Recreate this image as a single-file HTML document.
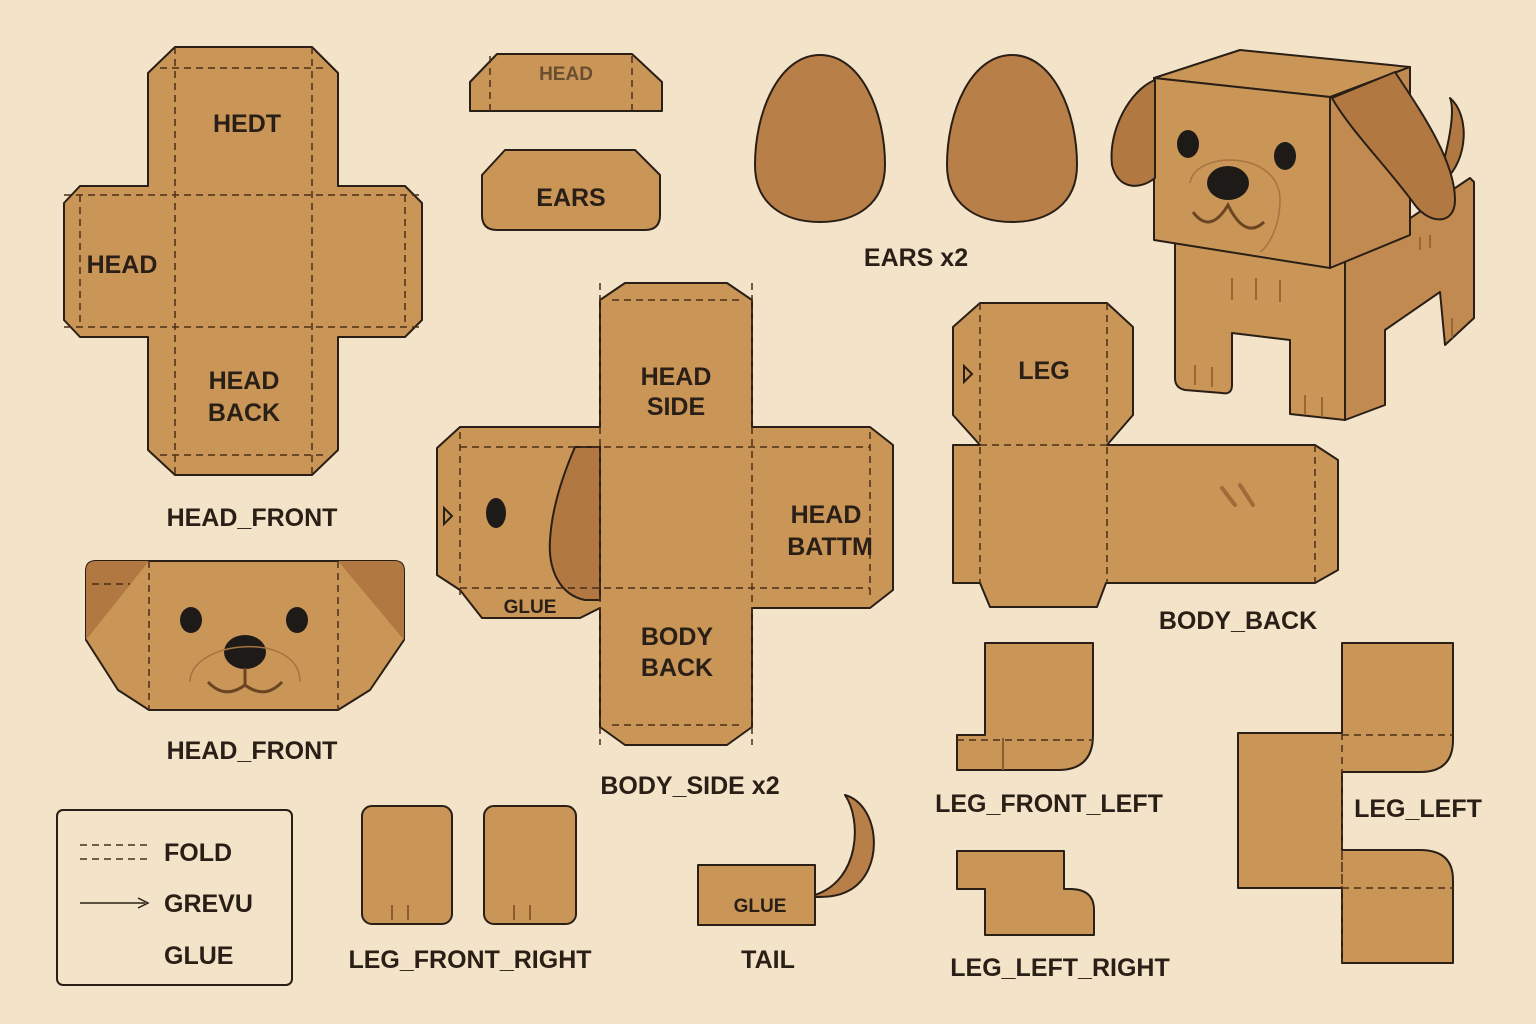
<!DOCTYPE html>
<html><head><meta charset="utf-8"><style>
html,body{margin:0;padding:0;background:#f3e3c8;}
svg{display:block;}
text{font-family:"Liberation Sans",sans-serif;font-weight:bold;fill:#2a1f16;}
</style></head><body>
<svg width="1536" height="1024" viewBox="0 0 1536 1024" xmlns="http://www.w3.org/2000/svg">
<rect width="1536" height="1024" fill="#f3e3c8"/>
<g stroke="#2a1f16" stroke-width="2" fill="#c99658" stroke-linejoin="round">
<path d="M175,47 L312,47 L338,73 L338,186 L405,186 L422,203 L422,320 L405,337 L338,337 L338,450 L312,475 L175,475 L148,450 L148,337 L80,337 L64,320 L64,203 L80,186 L148,186 L148,73 Z"/>
<path d="M470,111 L470,82 L497,54 L632,54 L662,82 L662,111 Z"/>
<path d="M482,175 L505,150 L635,150 L660,175 L660,215 Q660,230 645,230 L497,230 Q482,230 482,215 Z"/>
<path d="M820,55 C860,55 885,110 885,165 C885,205 855,222 820,222 C785,222 755,205 755,165 C755,110 780,55 820,55 Z" fill="#b97f48"/>
<path d="M1012,55 C1052,55 1077,110 1077,165 C1077,205 1047,222 1012,222 C977,222 947,205 947,165 C947,110 972,55 1012,55 Z" fill="#b97f48"/>
<path d="M625,283 L727,283 L752,300 L752,427 L870,427 L893,445 L893,590 L870,608 L752,608 L752,727 L727,745 L625,745 L600,727 L600,608 L580,618 L482,618 L460,590 L437,575 L437,448 L460,427 L480,427 L600,427 L600,300 Z"/>
<path d="M980,303 L1107,303 L1133,327 L1133,415 L1107,445 L1315,445 L1338,460 L1338,570 L1315,583 L1106,583 L1097,607 L990,607 L980,583 L953,583 L953,445 L980,445 L953,415 L953,327 Z"/>
<path d="M96,561 L394,561 Q404,561 404,571 L404,640 L370,690 L338,710 L149,710 L118,690 L86,640 L86,571 Q86,561 96,561 Z"/>
<path d="M86,640 L86,571 Q86,561 96,561 L149,561 Z" fill="#b27842" stroke="none"/>
<path d="M404,640 L404,571 Q404,561 394,561 L338,561 Z" fill="#b27842" stroke="none"/>
<rect x="362" y="806" width="90" height="118" rx="10"/>
<rect x="484" y="806" width="92" height="118" rx="10"/>
<path d="M815,895 C860,880 862,820 845,795 C880,805 885,870 850,890 C838,897 825,897 815,897 Z" fill="#b97f48"/>
<rect x="698" y="865" width="117" height="60"/>
<path d="M985,643 L1093,643 L1093,735 Q1093,770 1058,770 L957,770 L957,735 L985,735 Z"/>
<path d="M957,851 L1064,851 L1064,889 L1070,889 Q1094,889 1094,910 L1094,935 L985,935 L985,889 L957,889 Z"/>
<path d="M1342,643 L1453,643 L1453,740 Q1453,772 1420,772 L1342,772 L1342,850 L1420,850 Q1453,850 1453,880 L1453,963 L1342,963 L1342,888 L1238,888 L1238,733 L1342,733 Z"/>
<rect x="57" y="810" width="235" height="175" rx="6" fill="none"/>
</g>
<path d="M575,447 L600,447 L600,600 L585,600 C560,595 548,570 550,540 C552,505 565,470 575,447 Z" fill="#b27842" stroke="#2a1f16" stroke-width="2"/>
<ellipse cx="496" cy="513" rx="10" ry="15" fill="#1e1a17"/>
<path d="M444,508 L452,516 L444,524 Z" fill="none" stroke="#2a1f16" stroke-width="2"/>
<path d="M964,366 L972,374 L964,382 Z" fill="none" stroke="#2a1f16" stroke-width="2"/>
<g stroke="#4a2e18" stroke-width="1.5" stroke-dasharray="7,5" fill="none">
<path d="M175,47 V475 M312,47 V475 M64,195 H422 M64,327 H422 M160,68 H326 M80,195 V327 M405,195 V327 M160,455 H326"/>
<path d="M490,56 V111 M632,56 V111"/>
<path d="M612,300 H740 M460,447 H870 M460,588 H870 M460,432 V600 M870,432 V600 M612,725 H740 M600,283 V745 M752,283 V745"/>
<path d="M980,303 V583 M1107,303 V583 M980,445 H1107 M1315,445 V583"/>
<path d="M149,561 V710 M338,561 V710 M92,584 H130"/>
<path d="M957,740 H1093 M1342,733 V888 M1342,735 H1453 M1342,888 H1453 M1342,850 V963"/>
<path d="M80,845 H150 M80,859 H150"/>
</g>
<g stroke="#8c5a2c" stroke-width="2">
<path d="M1003,738 V770"/>
<path d="M392,905 V920 M408,905 V920 M514,905 V920 M530,905 V920"/>
<path d="M1222,488 L1235,505 M1240,485 L1253,505" stroke-width="4" stroke-linecap="round" stroke="#a06b38"/>
</g>
<ellipse cx="191" cy="620" rx="11" ry="13" fill="#1e1a17"/>
<ellipse cx="297" cy="620" rx="11" ry="13" fill="#1e1a17"/>
<ellipse cx="245" cy="652" rx="21" ry="17" fill="#1e1a17"/>
<path d="M190,682 C190,640 300,630 300,682" fill="none" stroke="#a67240" stroke-width="1.5"/>
<path d="M208,682 Q225,700 245,685 Q265,700 282,682 M245,668 V685" fill="none" stroke="#6b4421" stroke-width="3"/>
<path d="M80,903 H145" stroke="#2a1f16" stroke-width="1.5"/>
<path d="M138,898 L148,903 L138,908" fill="none" stroke="#2a1f16" stroke-width="1.5"/>
<g stroke="#2a1f16" stroke-width="2" stroke-linejoin="round">
<path d="M1440,175 C1450,140 1455,110 1450,98 C1470,115 1468,160 1445,180 Z" fill="#b27842"/>
<path d="M1345,262 L1470,178 L1474,182 L1474,318 L1445,345 L1440,292 L1385,330 L1385,405 L1345,420 Z" fill="#c08a50"/>
<path d="M1175,240 L1345,262 L1345,420 L1290,414 L1290,340 L1232,333 L1232,385 Q1232,395 1222,393 L1185,390 Q1175,388 1175,378 Z" fill="#c99658"/>
<path d="M1154,78 L1240,50 L1410,67 L1330,97 Z" fill="#c99658"/>
<path d="M1330,97 L1410,67 L1410,235 L1330,268 Z" fill="#c08a50"/>
<path d="M1154,78 L1330,97 L1330,268 L1154,240 Z" fill="#c99658"/>
<path d="M1155,80 C1130,90 1108,130 1112,165 C1118,190 1140,190 1155,178 Z" fill="#b27842"/>
<path d="M1332,98 L1395,72 C1420,110 1455,160 1455,200 C1455,225 1430,225 1415,205 C1390,170 1350,130 1332,98 Z" fill="#b27842"/>
</g>
<ellipse cx="1188" cy="144" rx="11" ry="14" fill="#1e1a17"/>
<ellipse cx="1285" cy="156" rx="11" ry="14" fill="#1e1a17"/>
<ellipse cx="1228" cy="183" rx="21" ry="17" fill="#1e1a17"/>
<path d="M1193,212 Q1210,235 1228,205 Q1245,240 1264,222" fill="none" stroke="#6b4421" stroke-width="3"/>
<path d="M1190,183 C1195,150 1280,150 1280,200 C1280,230 1265,250 1260,252" fill="none" stroke="#a67240" stroke-width="1.5"/>
<g stroke="#9a6634" stroke-width="2">
<path d="M1232,278 V300 M1256,278 V300 M1280,280 V302 M1195,365 V385 M1212,367 V387 M1305,395 V415 M1322,397 V417 M1420,237 V250 M1430,235 V248 M1452,318 V338"/>
</g>
<g font-size="25" text-anchor="middle">
<text x="247" y="132">HEDT</text>
<text x="122" y="273">HEAD</text>
<text x="244" y="389">HEAD</text>
<text x="244" y="421">BACK</text>
<text x="252" y="526">HEAD_FRONT</text>
<text x="571" y="206">EARS</text>
<text x="916" y="266">EARS x2</text>
<text x="676" y="385">HEAD</text>
<text x="676" y="415">SIDE</text>
<text x="826" y="523">HEAD</text>
<text x="830" y="555">BATTM</text>
<text x="677" y="645">BODY</text>
<text x="677" y="676">BACK</text>
<text x="690" y="794">BODY_SIDE x2</text>
<text x="1044" y="379">LEG</text>
<text x="1238" y="629">BODY_BACK</text>
<text x="252" y="759">HEAD_FRONT</text>
<text x="1049" y="812">LEG_FRONT_LEFT</text>
<text x="1418" y="817">LEG_LEFT</text>
<text x="470" y="968">LEG_FRONT_RIGHT</text>
<text x="768" y="968">TAIL</text>
<text x="1060" y="976">LEG_LEFT_RIGHT</text>
</g>
<g font-size="19" text-anchor="middle">
<text x="530" y="613">GLUE</text>
<text x="760" y="912">GLUE</text>
<text x="566" y="80" fill="#6b4a2a" opacity="0.6">HEAD</text>
</g>
<g font-size="25">
<text x="164" y="861">FOLD</text>
<text x="164" y="912">GREVU</text>
<text x="164" y="964">GLUE</text>
</g>
</svg>
</body></html>
